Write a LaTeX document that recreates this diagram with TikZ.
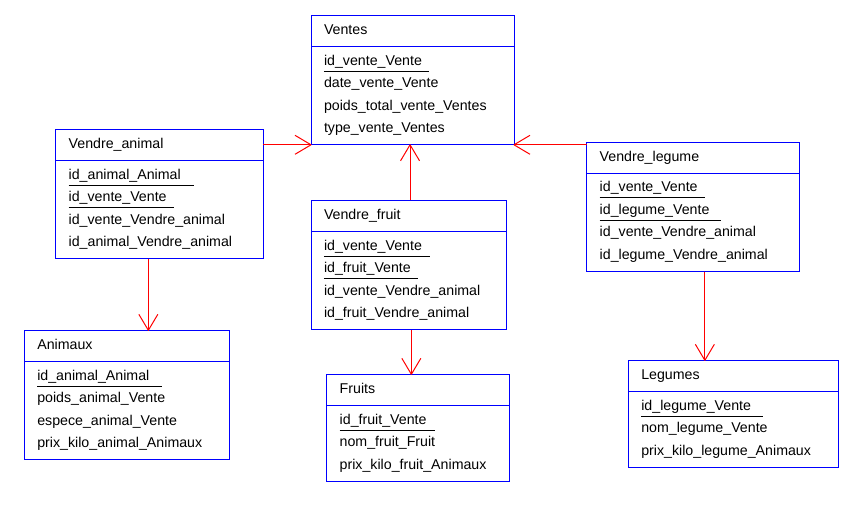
\documentclass[tikz,border=0pt]{standalone}
\usepackage{fontspec}
\setmainfont{Liberation Sans}
\usetikzlibrary{arrows.meta}

% open "V" arrow head made of two straight strokes
\pgfdeclarearrow{
  name = OpenVee,
  setup code = {
    \pgfarrowssettipend{0pt}
    \pgfarrowssetlineend{-0.5pt}
    \pgfarrowsupperhullpoint{-16pt}{9.5pt}
    \pgfarrowshullpoint{0pt}{0pt}
  },
  drawing code = {
    \pgfsetdash{}{0pt}
    \pgfsetroundjoin
    \pgfpathmoveto{\pgfqpoint{-16pt}{9.5pt}}
    \pgfpathlineto{\pgfpointorigin}
    \pgfpathlineto{\pgfqpoint{-16pt}{-9.5pt}}
    \pgfusepathqstroke
  }
}

\definecolor{ebord}{RGB}{0,0,255}
\definecolor{erel}{RGB}{255,0,0}

\tikzset{
  ebox/.style={draw=ebord, line width=1pt, inner sep=0pt, outer sep=0pt, anchor=north west},
  sepline/.style={draw=ebord, line width=1pt},
  txt/.style={inner sep=0pt, anchor=base west, font=\fontsize{14.2}{17}\selectfont},
  keyline/.style={draw=black, line width=1pt},
  rel/.style={draw=erel, line width=1pt, -{OpenVee}},
}

% \entity{name}{left}{top}{right}{rows}{title}
\newcommand\entity[6]{%
  \pgfmathsetmacro\eW{#4-#2}%
  \pgfmathsetmacro\eH{62+22.5*(#5-1)}%
  \node[ebox, minimum width=\eW pt, minimum height=\eH pt] (#1) at (#2,#3) {};
  \draw[sepline] ([yshift=-31.4pt]#1.north west) -- ([yshift=-31.4pt]#1.north east);
  \node[txt] (#1-t) at ([shift={(12.8,19)}]#1.north west) {#6};
}
% \attr{entity}{row}{text}
\newcommand\attr[3]{%
  \node[txt] (#1-#2) at ([shift={(12.8,49.7+22.5*#2)}]#1.north west) {#3};
}
% \keyattr{entity}{row}{text}{underline length}
\newcommand\keyattr[4]{%
  \attr{#1}{#2}{#3}
  \draw[keyline] ([yshift=-6pt]#1-#2.base west) -- ++(#4,0);
}

\begin{document}
\begin{tikzpicture}[x=1pt, y=-1pt]
  \fill[white] (0,0) rectangle (861,511);
  \useasboundingbox (0,0) rectangle (861,511);

  % main sales table
  \entity{ventes}{311}{15.3}{514}{4}{Ventes}
  \keyattr{ventes}{0}{id\_vente\_Vente}{105}
  \attr{ventes}{1}{date\_vente\_Vente}
  \attr{ventes}{2}{poids\_total\_vente\_Ventes}
  \attr{ventes}{3}{type\_vente\_Ventes}

  % association tables
  \entity{vanimal}{55.7}{129.3}{263}{4}{Vendre\_animal}
  \keyattr{vanimal}{0}{id\_animal\_Animal}{125}
  \keyattr{vanimal}{1}{id\_vente\_Vente}{105}
  \attr{vanimal}{2}{id\_vente\_Vendre\_animal}
  \attr{vanimal}{3}{id\_animal\_Vendre\_animal}

  \entity{vfruit}{311}{200.3}{506.7}{4}{Vendre\_fruit}
  \keyattr{vfruit}{0}{id\_vente\_Vente}{105.7}
  \keyattr{vfruit}{1}{id\_fruit\_Vente}{94}
  \attr{vfruit}{2}{id\_vente\_Vendre\_animal}
  \attr{vfruit}{3}{id\_fruit\_Vendre\_animal}

  \entity{vlegume}{586.7}{142}{799}{4}{Vendre\_legume}
  \keyattr{vlegume}{0}{id\_vente\_Vente}{105.4}
  \keyattr{vlegume}{1}{id\_legume\_Vente}{121.7}
  \attr{vlegume}{2}{id\_vente\_Vendre\_animal}
  \attr{vlegume}{3}{id\_legume\_Vendre\_animal}

  % product tables
  \entity{animaux}{24.3}{330.3}{229.3}{4}{Animaux}
  \keyattr{animaux}{0}{id\_animal\_Animal}{125}
  \attr{animaux}{1}{poids\_animal\_Vente}
  \attr{animaux}{2}{espece\_animal\_Vente}
  \attr{animaux}{3}{prix\_kilo\_animal\_Animaux}

  \entity{fruits}{326.7}{374.3}{509.3}{3}{Fruits}
  \keyattr{fruits}{0}{id\_fruit\_Vente}{95}
  \attr{fruits}{1}{nom\_fruit\_Fruit}
  \attr{fruits}{2}{prix\_kilo\_fruit\_Animaux}

  \entity{legumes}{628.3}{360.3}{838.3}{3}{Legumes}
  \keyattr{legumes}{0}{id\_legume\_Vente}{122}
  \attr{legumes}{1}{nom\_legume\_Vente}
  \attr{legumes}{2}{prix\_kilo\_legume\_Animaux}

  % references
  \draw[rel] (vanimal.north east |- ventes.south west) -- (ventes.south west);
  \draw[rel] (vlegume.north west |- ventes.south east) -- (ventes.south east);
  \draw[rel] ([xshift=1.2pt]vfruit.north) -- ([xshift=1.2pt]vfruit.north |- ventes.south);
  \draw[rel] ([xshift=-11pt]vanimal.south) -- ([xshift=-11pt]vanimal.south |- animaux.north);
  \draw[rel] ([xshift=2.5pt]vfruit.south) -- ([xshift=2.5pt]vfruit.south |- fruits.north);
  \draw[rel] ([xshift=12pt]vlegume.south) -- ([xshift=12pt]vlegume.south |- legumes.north);
\end{tikzpicture}
\end{document}
